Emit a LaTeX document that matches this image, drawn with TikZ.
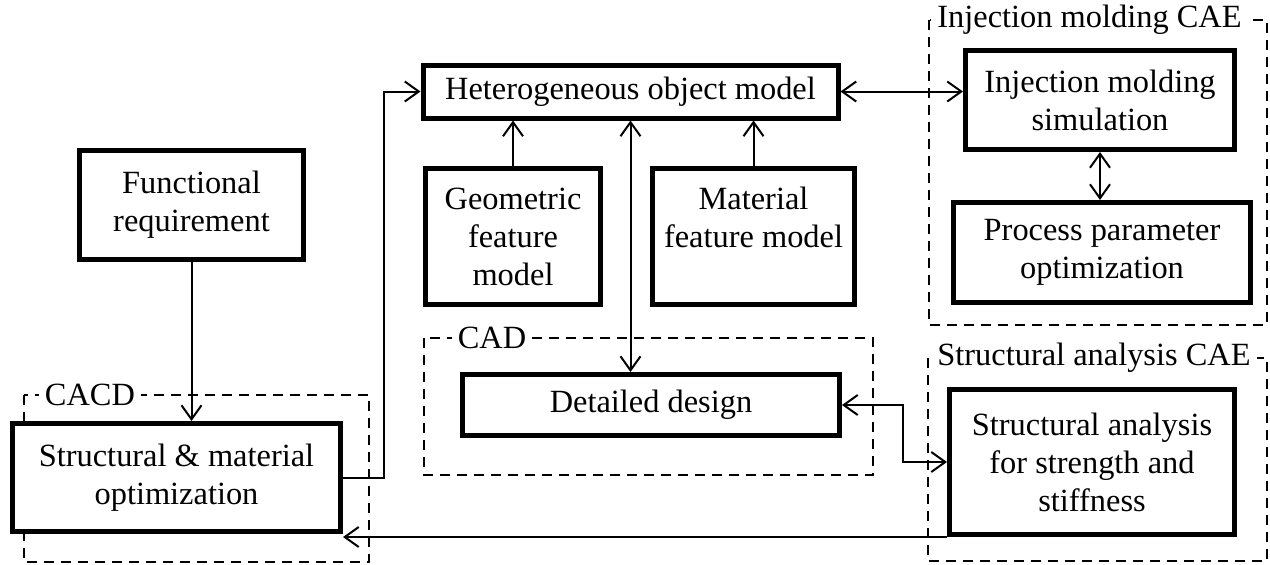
\documentclass[tikz,border=0pt]{standalone}
\usepackage{fontspec}
\setmainfont{Liberation Serif}
\usetikzlibrary{arrows.meta}
\begin{document}
\begin{tikzpicture}[x=0.5pt,y=-0.5pt,
  txt/.style={font=\fontsize{16.2}{19}\selectfont},
  box/.style={txt, draw, fill=white, line width=2.5pt, align=center, inner sep=0pt},
  grp/.style={draw, line width=1pt, dash pattern=on 5pt off 3.5pt},
  lbl/.style={txt, fill=white, inner xsep=3pt, inner ysep=1pt},
  tip/.tip={Straight Barb[length=7pt,width=10pt]},
  arr/.style={line width=1pt, -tip},
  darr/.style={line width=1pt, tip-tip}]
\useasboundingbox (0,0) rectangle (1270,564);
% group frames
\draw[grp] (24,395) rectangle (369,562);
\draw[grp] (424,338) rectangle (873,475);
\draw[grp] (929,20) rectangle (1267,325);
\draw[grp] (928,358) rectangle (1267,561);
\node[lbl] (lcacd) at (90,395) {CACD};
\node[lbl] (lcad) at (492,338) {CAD};
\node[lbl, anchor=west] (limcae) at (931,20) {Injection molding CAE};
\node[lbl, anchor=west] (lsacae) at (931,358) {Structural analysis CAE};
% boxes
\node[box, minimum width=207.5pt, minimum height=26.5pt] (het) at (630.5,91.5) {Heterogeneous object model};
\node[box, minimum width=112pt, minimum height=54.5pt] (func) at (191.5,205) {Functional\\requirement};
\node[box, minimum width=164pt, minimum height=54pt] (sm) at (176.5,477.5) {Structural \& material\\optimization};
\node[box, minimum width=87.5pt, minimum height=68pt] (geo) at (513,236.5) {Geometric\\feature\\model};
\node[box, minimum width=101pt, minimum height=68pt] (mat) at (753.5,236.5) {Material\\feature model\\~};
\node[box, minimum width=188.5pt, minimum height=30.5pt] (det) at (651,405) {Detailed design};
\node[box, minimum width=134.5pt, minimum height=49.5pt] (ims) at (1100,100) {Injection molding\\simulation};
\node[box, minimum width=148.5pt, minimum height=50pt] (ppo) at (1102,252.5) {Process parameter\\optimization};
\node[box, minimum width=142.5pt, minimum height=72.5pt] (sa) at (1092,462) {Structural analysis\\for strength and\\stiffness};
% connectors
\draw[arr] (func.south) -- (func.south |- sm.north);
\draw[arr] (sm.east) -- ++(41,0) |- (het.west);
\draw[arr] (geo.north) -- (geo.north |- het.south);
\draw[arr] (mat.north) -- (mat.north |- het.south);
\draw[darr] (het.south) -- (het.south |- det.north);
\draw[darr] (het.east) -- (het.east -| ims.west);
\draw[darr] (ims.south) -- (ims.south |- ppo.north);
\draw[darr] (det.east) -- ++(61,0) |- (sa.west);
\draw[arr] (sa.south west) -- (sa.south west -| sm.east);
\end{tikzpicture}
\end{document}
